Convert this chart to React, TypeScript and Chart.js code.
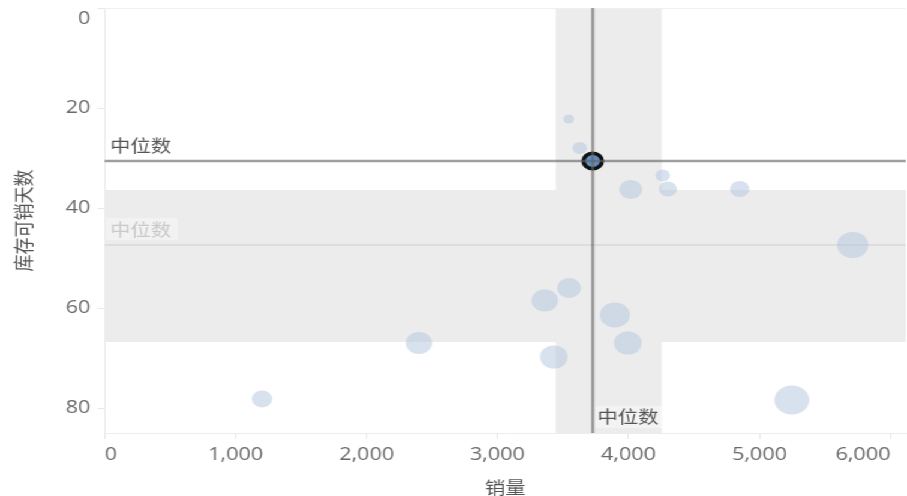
import React, { useEffect, useRef } from "react";
import { Chart, registerables } from "chart.js";

Chart.register(...registerables);

// 销量 (x) / 库存可销天数 (y) / bubble radius for each product
const salesValues = [3544, 3628, 4017, 4262, 4301, 4849, 5712, 5247, 3361, 3546, 3896, 3995, 3430, 2399, 1201];
const daysValues = [22.2, 28.0, 36.3, 33.5, 36.2, 36.2, 47.4, 78.4, 58.5, 56.0, 61.4, 67.0, 69.8, 67.0, 78.2];
const bubbleRadii = [4.5, 6, 9.5, 6, 7.5, 8, 13, 14.5, 11, 10, 12.5, 11.5, 11.5, 11, 8.5];

// median reference lines and interquartile bands
const medianSales = 3727;
const medianDays = 30.6;
const lightMedianDays = 47.4;
const salesBand = [3445, 4254];
const daysBand = [36.4, 66.8];

const xTickValues = [0, 1000, 2000, 3000, 4000, 5000, 6000];
const yTickValues = [0, 20, 40, 60, 80];
const xMax = 6117;
const yMax = 85;

const medianLabel = "中位数";
const xTitle = "销量";
const yTitle = "库存可销天数";

// the chart is laid out on a narrower canvas and widened horizontally
const PAGE_W = 907;
const W = 756;
const H = 496;

const CJK = '"Noto Sans CJK SC", "Noto Sans", sans-serif';
const NUM = '"Open Sans", "DejaVu Sans", sans-serif';

const noPadding = () => ({ left: 0, top: 0, right: 0, bottom: 0 });

const guides = {
  id: "medianGuides",
  beforeDatasetsDraw(chart: any) {
    const { ctx, chartArea: a, scales } = chart;
    const x = scales.x;
    const y = scales.y;
    ctx.save();
    ctx.fillStyle = "#ececec";
    const bx0 = x.getPixelForValue(salesBand[0]);
    const bx1 = x.getPixelForValue(salesBand[1]);
    ctx.fillRect(bx0, a.top, bx1 - bx0, a.bottom - a.top);
    const by0 = y.getPixelForValue(daysBand[0]);
    const by1 = y.getPixelForValue(daysBand[1]);
    ctx.fillRect(a.left, by0, a.right - a.left, by1 - by0);

    // faint frame at top
    ctx.strokeStyle = "#f3eeee";
    ctx.lineWidth = 1;
    ctx.beginPath();
    ctx.moveTo(a.left, a.top + 0.5);
    ctx.lineTo(a.right, a.top + 0.5);
    ctx.stroke();

    const ly = y.getPixelForValue(lightMedianDays);
    ctx.strokeStyle = "#dddddd";
    ctx.lineWidth = 2;
    ctx.beginPath();
    ctx.moveTo(a.left, ly);
    ctx.lineTo(a.right, ly);
    ctx.stroke();

    ctx.font = `17px ${CJK}`;
    ctx.textBaseline = "middle";
    ctx.textAlign = "left";
    const tw = ctx.measureText(medianLabel).width;
    ctx.fillStyle = "rgba(255,255,255,0.35)";
    ctx.fillRect(a.left + 1, ly - 27, tw + 9, 22);
    ctx.fillStyle = "#c9c9c9";
    ctx.fillText(medianLabel, a.left + 4.5, ly - 15.5);
    ctx.restore();
  },
  afterDatasetsDraw(chart: any) {
    const { ctx, chartArea: a, scales } = chart;
    const x = scales.x;
    const y = scales.y;
    const vx = x.getPixelForValue(medianSales);
    const hy = y.getPixelForValue(medianDays);
    ctx.save();
    ctx.strokeStyle = "rgba(100,100,100,0.62)";
    ctx.lineWidth = 2.5;
    ctx.beginPath();
    ctx.moveTo(a.left, hy);
    ctx.lineTo(a.right, hy);
    ctx.stroke();
    ctx.beginPath();
    ctx.moveTo(vx, a.top);
    ctx.lineTo(vx, a.bottom);
    ctx.stroke();

    ctx.font = `17px ${CJK}`;
    ctx.textBaseline = "middle";
    ctx.textAlign = "left";
    ctx.fillStyle = "#555555";
    ctx.fillText(medianLabel, a.left + 4.5, hy - 15);

    const tw = ctx.measureText(medianLabel).width;
    ctx.fillStyle = "rgba(255,255,255,0.4)";
    ctx.fillRect(vx + 2, a.bottom - 27, tw + 6, 22);
    ctx.fillStyle = "#555555";
    ctx.fillText(medianLabel, vx + 4, a.bottom - 16);
    ctx.restore();
  },
};

export default function App() {
  const canvasRef = useRef<HTMLCanvasElement | null>(null);

  useEffect(() => {
    const canvas = canvasRef.current;
    if (!canvas) return;

    const products = salesValues.map((s, i) => ({ x: s, y: daysValues[i], r: bubbleRadii[i] }));

    const chart = new Chart(canvas, {
      type: "bubble",
      data: {
        datasets: [
          {
            label: "products",
            data: products,
            backgroundColor: "rgba(176,198,222,0.5)",
            borderWidth: 0,
            borderColor: "rgba(0,0,0,0)",
          },
          {
            label: "median",
            data: [{ x: medianSales, y: medianDays, r: 7.75 }],
            backgroundColor: "#5f8fc2",
            borderColor: "#111111",
            borderWidth: 3.5,
          },
        ],
      },
      options: {
        responsive: false,
        animation: false,
        events: [],
        layout: { autoPadding: false, padding: { top: 8, right: 1, left: 0, bottom: 0 } },
        plugins: {
          legend: { display: false },
          tooltip: { enabled: false },
        },
        scales: {
          x: {
            type: "linear",
            min: 0,
            max: xMax,
            afterBuildTicks: (s: any) => {
              s.ticks = xTickValues.map((value) => ({ value }));
            },
            afterFit: (s: any) => {
              s.height = H - 433;
              s.paddingLeft = 0;
              s.paddingRight = 0;
              s.getPadding = noPadding;
            },
            ticks: {
              align: "inner",
              autoSkip: false,
              maxRotation: 0,
              padding: 5,
              color: "#6a6a6a",
              font: { family: NUM, size: 18 },
              callback: (v: any) => Number(v).toLocaleString("en-US"),
            },
            grid: { drawOnChartArea: false, tickLength: 6, color: "#ece6e6" },
            border: { color: "#f1eaea", width: 1 },
            title: {
              display: true,
              text: xTitle,
              color: "#555555",
              font: { family: CJK, size: 17, lineHeight: 1 },
              padding: { top: 0, bottom: 0 },
            },
          },
          y: {
            type: "linear",
            reverse: true,
            min: 0,
            max: yMax,
            afterBuildTicks: (s: any) => {
              s.ticks = yTickValues.map((value) => ({ value }));
            },
            afterFit: (s: any) => {
              s.width = 87.25;
              s.paddingTop = 0;
              s.paddingBottom = 0;
              s.getPadding = noPadding;
            },
            ticks: {
              padding: 6,
              color: "#6a6a6a",
              font: { family: NUM, size: 18 },
              callback: (v: any) => (Number(v) === 0 ? ["", "0"] : String(v)),
            },
            grid: { drawOnChartArea: false, tickLength: 6, color: "#ece6e6" },
            border: { color: "#f1eaea", width: 1 },
            title: {
              display: true,
              text: yTitle,
              color: "#555555",
              font: { family: CJK, size: 17, lineHeight: 1 },
              padding: { top: 11.5, bottom: 0 },
            },
          },
        },
      },
      plugins: [guides],
    } as any);

    return () => chart.destroy();
  }, []);

  return (
    <div
      style={{
        position: "absolute",
        left: 0,
        top: 0,
        width: W,
        height: H,
        overflow: "hidden",
        background: "#ffffff",
        transform: `scaleX(${PAGE_W / W})`,
        transformOrigin: "0 0",
      }}
    >
      <canvas ref={canvasRef} width={W} height={H} style={{ display: "block" }} />
    </div>
  );
}
